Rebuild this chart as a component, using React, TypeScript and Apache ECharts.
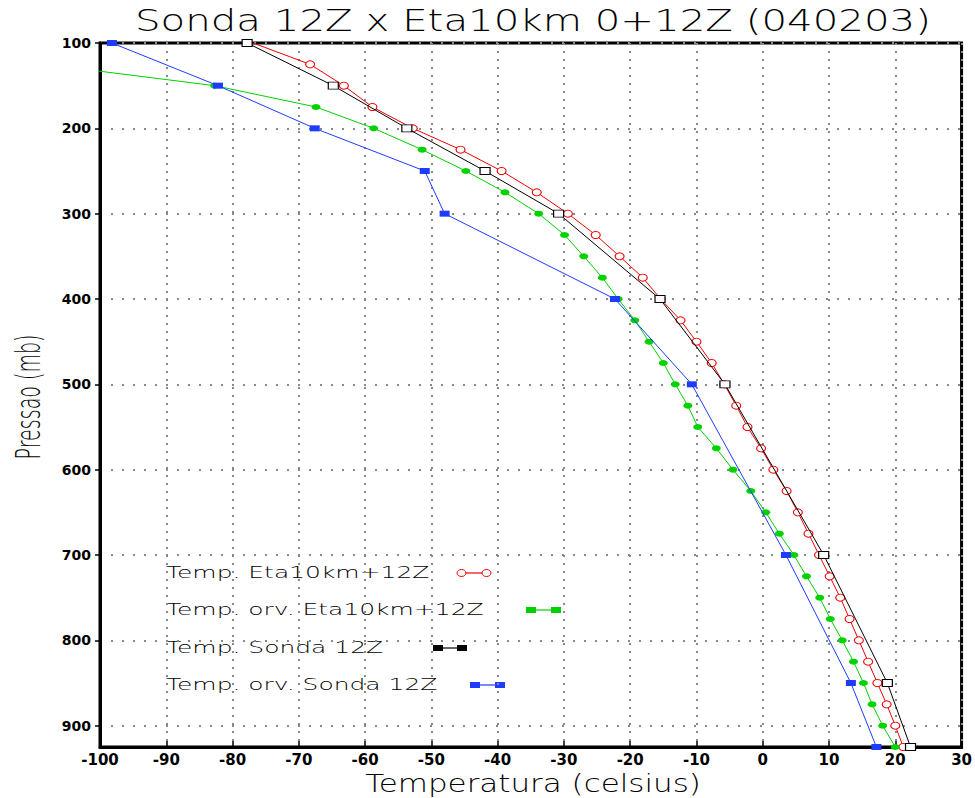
import React, { useEffect, useRef } from "react";
import * as echarts from "echarts";

// Pressure levels (mb)
const PRESSURE_ETA = [100, 125, 150, 175, 200, 225, 250, 275, 300, 325, 350, 375, 400, 425, 450, 475, 500, 525, 550, 575, 600, 625, 650, 675, 700, 725, 750, 775, 800, 825, 850, 875, 900, 925];
const TEMP_ETA = [-76.9, -68.3, -63.2, -58.9, -52.8, -45.6, -39.4, -34.1, -29.4, -25.2, -21.6, -18.1, -15.4, -12.4, -10.0, -7.7, -5.8, -4.0, -2.3, -0.25, 1.6, 3.6, 5.3, 6.9, 8.5, 10.1, 11.7, 13.1, 14.5, 15.9, 17.3, 18.7, 20.0, 21.2];

const PRESSURE_ETA_DEW = [125, 150, 175, 200, 225, 250, 275, 300, 325, 350, 375, 400, 425, 450, 475, 500, 525, 550, 575, 600, 625, 650, 675, 700, 725, 750, 775, 800, 825, 850, 875, 900, 925];
const DEW_ETA = [-108.3, -82.7, -67.4, -58.7, -51.4, -44.8, -38.9, -33.8, -29.9, -27.0, -24.2, -21.8, -19.3, -17.15, -15.0, -13.2, -11.3, -9.8, -7.0, -4.5, -1.8, 0.45, 2.5, 4.7, 6.6, 8.6, 10.2, 12.0, 13.7, 15.2, 16.5, 18.1, 20.0];

const PRESSURE_SONDA = [100, 150, 200, 250, 300, 400, 500, 700, 850, 925];
const TEMP_SONDA = [-77.8, -64.8, -53.7, -41.9, -30.8, -15.5, -5.7, 9.2, 18.8, 22.3];
const DEW_SONDA = [-98.2, -82.2, -67.6, -51.0, -48.0, -22.3, -10.7, 3.5, 13.3, 17.15];

const SERIES_NAMES = ["Temp. Eta10km+12Z", "Temp. orv. Eta10km+12Z", "Temp. Sonda 12Z", "Temp. orv. Sonda 12Z"];
const TITLE = "Sonda 12Z x Eta10km 0+12Z (040203)";
const X_NAME = "Temperatura (celsius)";
const Y_NAME = "Pressao (mb)";

const RED = "#f00000";
const GREEN = "#00d200";
const BLACK = "#000000";
const BLUE = "#1e3cff";

const pairs = (t: number[], p: number[]) => t.map((v, i) => [v, p[i]]);

export default function App() {
  const ref = useRef<HTMLDivElement>(null);
  useEffect(() => {
    if (!ref.current) return;
    const chart = echarts.init(ref.current, null, { renderer: "svg" });
    const font = "DejaVu Sans";

    const redData: any[] = pairs(TEMP_ETA, PRESSURE_ETA).map((d, i) =>
      i === 0 ? { value: d, symbolSize: 0 } : d
    );

    const legendRows = [
      { y: 573, kind: "circle", color: RED, x1: 461.5, x2: 486.5 },
      { y: 610, kind: "rect", color: GREEN, x1: 531, x2: 556 },
      { y: 648, kind: "rect", color: BLACK, x1: 438, x2: 462 },
      { y: 685, kind: "rect", color: BLUE, x1: 475, x2: 500 },
    ];

    const graphics: any[] = [
      {
        type: "text",
        x: 533,
        y: 20,
        scaleX: 1.3,
        style: {
          text: TITLE,
          font: `200 31px '${font}'`,
          fill: "#000",
          textAlign: "center",
          textVerticalAlign: "middle",
        },
      },
      {
        type: "text",
        x: 533,
        y: 784,
        scaleX: 1.29,
        style: {
          text: X_NAME,
          font: `200 24px '${font}'`,
          fill: "#000",
          textAlign: "center",
          textVerticalAlign: "middle",
        },
      },
      {
        type: "text",
        x: 28,
        y: 397,
        rotation: Math.PI / 2,
        scaleX: 0.56,
        style: {
          text: Y_NAME,
          font: `200 34px '${font}'`,
          fill: "#000",
          textAlign: "center",
          textVerticalAlign: "middle",
        },
      },
    ];

    legendRows.forEach((r, i) => {
      graphics.push({
        type: "text",
        x: 166,
        y: r.y,
        scaleX: 1.56,
        style: {
          text: SERIES_NAMES[i],
          font: `200 16px '${font}'`,
          fill: "#000",
          textAlign: "left",
          textVerticalAlign: "middle",
        },
      });
      graphics.push({
        type: "line",
        shape: { x1: r.x1, y1: r.y, x2: r.x2, y2: r.y },
        style: { stroke: r.color, lineWidth: 1.2 },
      });
      [r.x1, r.x2].forEach((cx) => {
        if (r.kind === "circle") {
          graphics.push({
            type: "ellipse",
            shape: { cx, cy: r.y, rx: 4.5, ry: 3.5 },
            style: { fill: "#fff", stroke: r.color, lineWidth: 1 },
          });
        } else {
          graphics.push({
            type: "rect",
            shape: { x: cx - 5, y: r.y - 3, width: 10, height: 6 },
            style: { fill: r.color },
          });
        }
      });
    });

    const option: any = {
      animation: false,
      backgroundColor: "#fff",
      grid: {
        left: 100,
        right: 13,
        top: 43,
        bottom: 51,
        show: true,
        borderColor: "#000",
        borderWidth: 3,
        backgroundColor: "transparent",
      },
      xAxis: {
        type: "value",
        min: -100,
        max: 30,
        interval: 10,
        axisLine: { show: true, onZero: false, lineStyle: { color: "#000", width: 3 } },
        axisTick: { show: true, inside: true, length: 6, lineStyle: { color: "#000", width: 1.5 } },
        axisLabel: {
          color: "#000",
          fontFamily: font,
          fontWeight: "bold",
          fontSize: 15,
          margin: 5,
        },
        splitLine: {
          show: true,
          lineStyle: { color: "#888", width: 2, type: [2, 6] },
        },
      },
      yAxis: {
        type: "value",
        inverse: true,
        min: 100,
        max: 925,
        interval: 100,
        axisLine: { show: true, onZero: false, lineStyle: { color: "#000", width: 3 } },
        axisTick: { show: true, inside: false, length: 5, lineStyle: { color: "#000", width: 1.5 } },
        axisLabel: {
          color: "#000",
          fontFamily: font,
          fontWeight: "bold",
          fontSize: 14,
          margin: 9,
          showMaxLabel: false,
        },
        splitLine: {
          show: true,
          lineStyle: { color: "#888", width: 2, type: [2, 9] },
        },
      },
      series: [
        {
          name: SERIES_NAMES[0],
          type: "line",
          data: redData,
          symbol: "circle",
          symbolSize: [9, 7],
          showAllSymbol: true,
          lineStyle: { color: RED, width: 1 },
          itemStyle: { color: "#fff", borderColor: RED, borderWidth: 1 },
          z: 2,
        },
        {
          name: SERIES_NAMES[1],
          type: "line",
          data: pairs(DEW_ETA, PRESSURE_ETA_DEW),
          symbol: "circle",
          symbolSize: [9, 6],
          showAllSymbol: true,
          lineStyle: { color: GREEN, width: 1 },
          itemStyle: { color: GREEN, borderWidth: 0 },
          z: 3,
        },
        {
          name: SERIES_NAMES[2],
          type: "line",
          data: pairs(TEMP_SONDA, PRESSURE_SONDA),
          symbol: "rect",
          symbolSize: [10, 7],
          showAllSymbol: true,
          lineStyle: { color: BLACK, width: 1 },
          itemStyle: { color: "#fff", borderColor: BLACK, borderWidth: 1 },
          z: 4,
        },
        {
          name: SERIES_NAMES[3],
          type: "line",
          data: pairs(DEW_SONDA, PRESSURE_SONDA),
          symbol: "rect",
          symbolSize: [10, 6],
          showAllSymbol: true,
          lineStyle: { color: BLUE, width: 1 },
          itemStyle: { color: BLUE, borderWidth: 0 },
          z: 5,
        },
      ],
      graphic: graphics,
    };
    chart.setOption(option);
    return () => chart.dispose();
  }, []);

  return (
    <div
      ref={ref}
      style={{ position: "fixed", left: 0, top: 0, width: 975, height: 798, background: "#fff" }}
    />
  );
}
